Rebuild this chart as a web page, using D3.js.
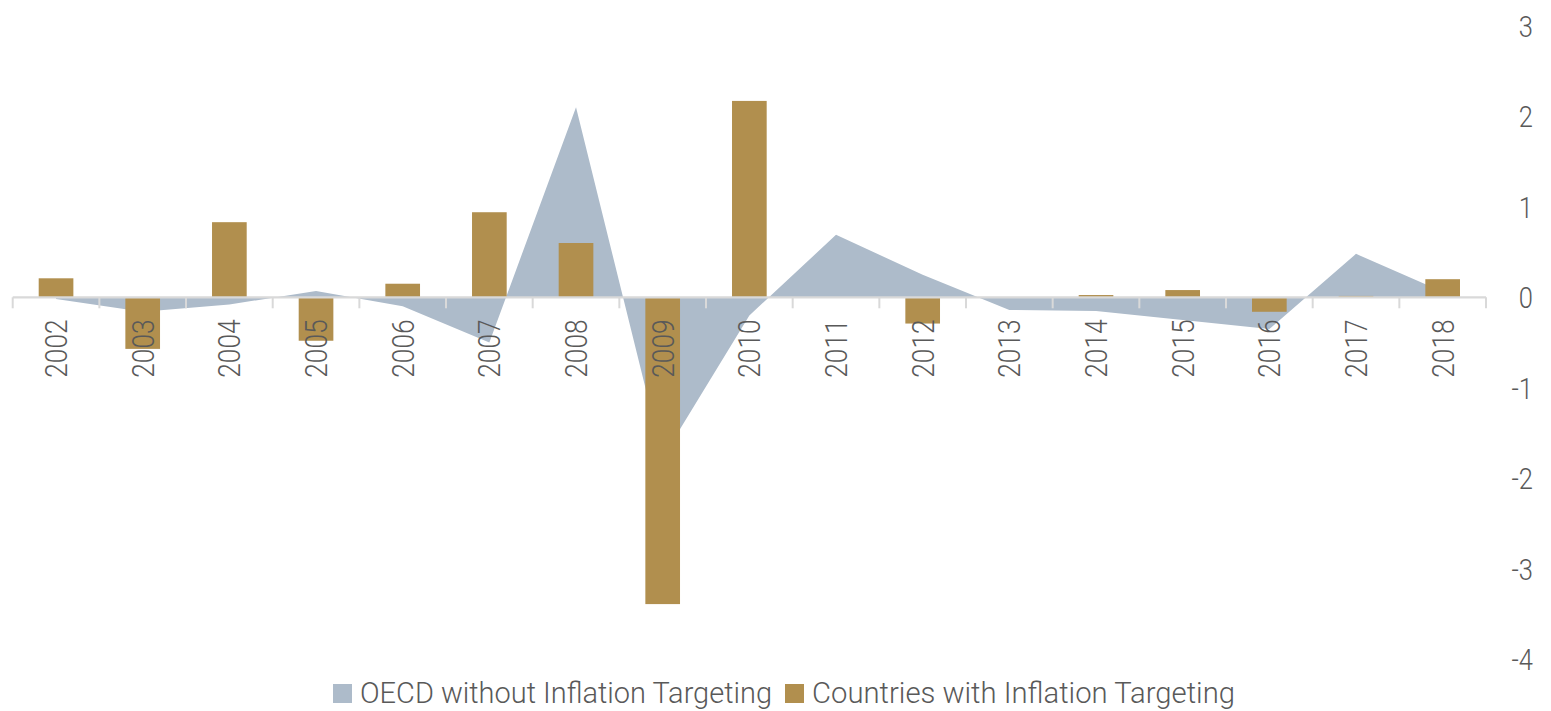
<!DOCTYPE html>
<html>
<head>
<meta charset="utf-8">
<script src="https://cdn.jsdelivr.net/npm/d3@7"></script>
<style>
  body { margin: 0; background: #fff; }
  svg text { font-family: Roboto, "Open Sans", sans-serif; font-weight: 300; fill: #595959; }
</style>
</head>
<body>
<div id="chart"></div>
<script>
let years = ["2002", "2003", "2004", "2005", "2006", "2007", "2008", "2009", "2010",
  "2011", "2012", "2013", "2014", "2015", "2016", "2017", "2018"];

// OECD without Inflation Targeting (area)
let oecdNoTargeting = [-0.02, -0.16, -0.08, 0.07, -0.10, -0.50, 2.10, -1.77, -0.20,
  0.69, 0.25, -0.14, -0.15, -0.25, -0.35, 0.48, 0.06];

// Countries with Inflation Targeting (bars)
let withTargeting = [0.21, -0.57, 0.83, -0.48, 0.15, 0.94, 0.60, -3.39, 2.17,
  0, -0.29, 0, 0.025, 0.08, -0.16, 0.015, 0.20];

let yTicks = [3, 2, 1, 0, -1, -2, -3, -4];

let seriesNames = ["OECD without Inflation Targeting", "Countries with Inflation Targeting"];
let colors = ["#ADBBCA", "#B18F4E"];

let width = 1551, height = 711;

let svg = d3.select("#chart")
  .append("svg")
  .attr("width", width)
  .attr("height", height);

let x = d3.scaleBand()
  .domain(years)
  .range([12.7, 1486])
  .paddingInner(0.6)
  .paddingOuter(0.3);

let step = x.step();
let center = function(d) { return x(d) + x.bandwidth() / 2; };

let y = d3.scaleLinear()
  .domain([-4, 3])
  .range([659.3, 25.8]);

// squeeze text to look like the narrow font of the original
function squeeze(sel, k) {
  sel.each(function() {
    let len = this.getComputedTextLength();
    d3.select(this).attr("textLength", len * k).attr("lengthAdjust", "spacingAndGlyphs");
  });
}

/* Area */
let area = d3.area()
  .x(function(d, i) { return center(years[i]); })
  .y0(y(0))
  .y1(function(d) { return y(d); });

svg.append("path")
  .datum(oecdNoTargeting)
  .attr("fill", colors[0])
  .attr("d", area);

/* Bars */
svg.selectAll("rect.bar")
  .data(withTargeting)
  .enter().append("rect")
  .attr("class", "bar")
  .attr("x", function(d, i) { return x(years[i]); })
  .attr("width", x.bandwidth())
  .attr("y", function(d) { return y(Math.max(0, d)); })
  .attr("height", function(d) { return Math.abs(y(d) - y(0)); })
  .attr("fill", colors[1]);

/* X axis line with ticks between categories */
let xAxis = svg.append("g");
xAxis.append("line")
  .attr("x1", x.range()[0]).attr("x2", x.range()[1])
  .attr("y1", y(0)).attr("y2", y(0))
  .attr("stroke", "#D9D9D9").attr("stroke-width", 2.2);

let boundaries = years.map(function(d) { return x(d) - step * 0.3; }).concat([x.range()[1]]);
xAxis.selectAll("line.tick")
  .data(boundaries)
  .enter().append("line")
  .attr("class", "tick")
  .attr("x1", function(d) { return d; }).attr("x2", function(d) { return d; })
  .attr("y1", y(0)).attr("y2", y(0) + 11)
  .attr("stroke", "#D9D9D9").attr("stroke-width", 2);

let yearLabels = xAxis.selectAll("text")
  .data(years)
  .enter().append("text")
  .attr("transform", function(d) { return "translate(" + center(d) + "," + (y(0) + 22) + ") rotate(-90)"; })
  .attr("dy", 11)
  .attr("text-anchor", "end")
  .style("font-size", "31px")
  .text(function(d) { return d; });
squeeze(yearLabels, 0.85);

/* Right axis labels */
let yLabels = svg.append("g").selectAll("text")
  .data(yTicks)
  .enter().append("text")
  .attr("x", 1533)
  .attr("y", function(d) { return y(d); })
  .attr("dy", "0.36em")
  .attr("text-anchor", "end")
  .style("font-size", "30px")
  .text(function(d) { return d; });
squeeze(yLabels, 0.85);

/* Legend */
let legend = svg.append("g");
let legendX = [333, 785];
let legendTextLen = [412, 423];
seriesNames.forEach(function(name, i) {
  legend.append("rect")
    .attr("x", legendX[i]).attr("y", 684)
    .attr("width", 19).attr("height", 19)
    .attr("fill", colors[i]);
  legend.append("text")
    .attr("x", legendX[i] + 27).attr("y", 703)
    .style("font-size", "29px")
    .attr("textLength", legendTextLen[i])
    .attr("lengthAdjust", "spacingAndGlyphs")
    .text(name);
});
</script>
</body>
</html>
